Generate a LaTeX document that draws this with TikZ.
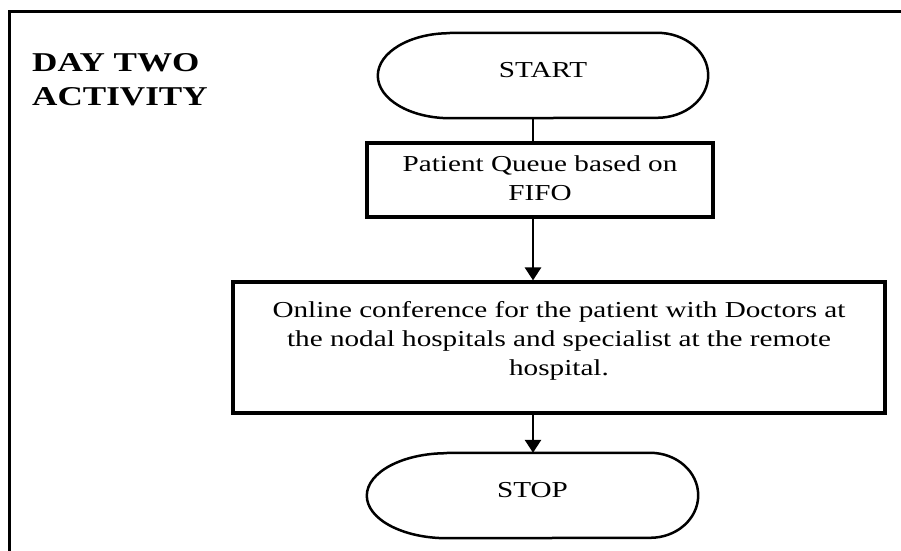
\documentclass[tikz,border=0pt]{standalone}
\usepackage{fontspec}
\setmainfont{Liberation Serif}
\usetikzlibrary{arrows.meta}
\newcommand{\widetext}[1]{\scalebox{1.28}[1]{\begin{tabular}{@{}c@{}}#1\end{tabular}}}
\begin{document}
\begin{tikzpicture}[x=1pt,y=1pt,
  every node/.style={inner sep=0pt,font=\fontsize{22.8}{29.2}\selectfont},
  term/.style={minimum height=85,text depth=17},
  procbox/.style={draw,line width=3.2pt},
  flow/.style={line width=2.8pt,-{Triangle[width=16pt,length=13pt]}}]
  \useasboundingbox (0,0) rectangle (901,550);
  \draw[line width=3pt] (9,-10) |- (911,538);
  \node[anchor=base west,font=\fontsize{27.2}{34}\selectfont\bfseries] (title) at (32,478) {\scalebox{1.29}[1]{\begin{tabular}[t]{@{}l@{}}DAY TWO\\ACTIVITY\end{tabular}}};
  \node[term,minimum width=330] (start) at (543,474.5) {\widetext{START}};
  \node[procbox,minimum width=346,minimum height=74] (queue) at (540,370) {\widetext{Patient Queue based on\\FIFO}};
  \node[procbox,minimum width=652,minimum height=131,text depth=52] (conf) at (559,202.5) {\widetext{Online conference for the patient with Doctors at\\the nodal hospitals and specialist at the remote\\hospital.}};
  \node[term,minimum width=331] (stop) at (532.5,54.5) {\widetext{STOP}};
  \draw[line width=2.5pt] ([shift={(72,0)}]start.north west) -- ([shift={(-51,0)}]start.north east) arc[start angle=90,end angle=-90,x radius=51,y radius=42.5] -- ([shift={(72,0)}]start.south west) arc[start angle=270,end angle=90,x radius=72,y radius=42.5];
  \draw[line width=2.5pt] ([shift={(80,0)}]stop.north west) -- ([shift={(-48,0)}]stop.north east) arc[start angle=90,end angle=-90,x radius=48,y radius=42.5] -- ([shift={(80,0)}]stop.south west) arc[start angle=270,end angle=90,x radius=80,y radius=42.5];
  \coordinate (spine) at (533,0);
  \draw[line width=2.8pt] (start.south -| spine) -- (queue.north -| spine);
  \draw[flow] (queue.south -| spine) -- (conf.north -| spine);
  \draw[flow] (conf.south -| spine) -- (stop.north -| spine);
\end{tikzpicture}
\end{document}
